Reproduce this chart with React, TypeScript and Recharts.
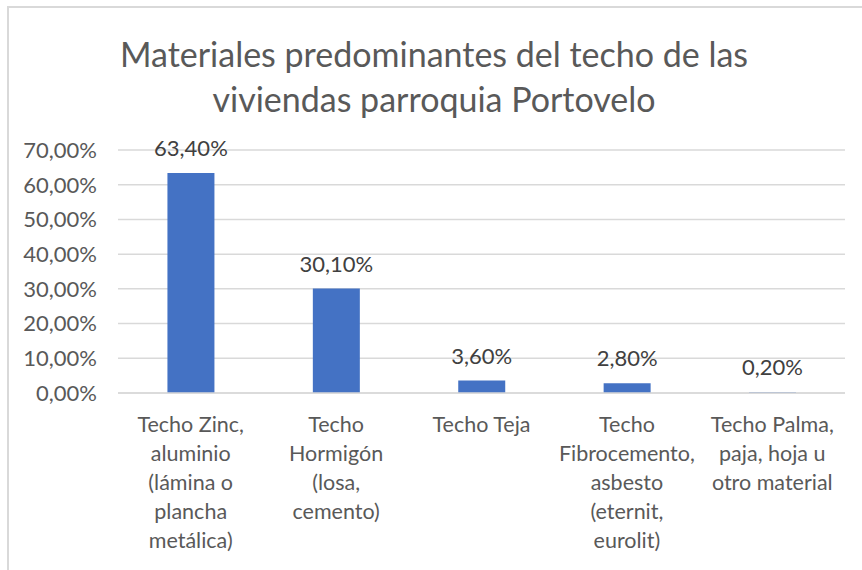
import { BarChart, Bar, XAxis, YAxis, CartesianGrid, LabelList } from 'recharts'

const categories = [
  'Techo Zinc, aluminio (lámina o plancha metálica)',
  'Techo Hormigón (losa, cemento)',
  'Techo Teja',
  'Techo Fibrocemento, asbesto (eternit, eurolit)',
  'Techo Palma, paja, hoja u otro material',
]
const categoryLines = [
  ['Techo Zinc,', 'aluminio', '(lámina o', 'plancha', 'metálica)'],
  ['Techo', 'Hormigón', '(losa,', 'cemento)'],
  ['Techo Teja'],
  ['Techo', 'Fibrocemento,', 'asbesto', '(eternit,', 'eurolit)'],
  ['Techo Palma,', 'paja, hoja u', 'otro material'],
]
const values = [63.4, 30.1, 3.6, 2.8, 0.2]
const yTicks = [0, 10, 20, 30, 40, 50, 60, 70]

const FONT = 'Lato, "Open Sans", sans-serif'
const pct = (v: number) => `${v.toFixed(2).replace('.', ',')}%`

const data = categories.map((name, i) => ({ name, value: values[i], idx: i }))

function CategoryTick(props: any) {
  const { x, y, index } = props
  const lines = categoryLines[index] || []
  return (
    <g>
      {lines.map((l, i) => (
        <text
          key={i}
          x={x}
          y={y + 31 + i * 29}
          textAnchor="middle"
          fill="#595959"
          fontSize={21.5}
          fontFamily={FONT}
        >
          {l}
        </text>
      ))}
    </g>
  )
}

export default function App() {
  return (
    <div style={{ position: 'absolute', left: 0, top: 0, width: 862, height: 570, background: '#fff' }}>
      <div
        style={{
          position: 'absolute', left: 7, top: 6, right: 0, bottom: 0,
          borderTop: '2px solid #d9d9d9', borderLeft: '2px solid #d9d9d9',
        }}
      />
      <div
        style={{
          position: 'absolute', left: 0, top: 31, width: 868, textAlign: 'center',
          fontFamily: FONT, fontSize: 34, color: '#595959', lineHeight: '45px',
        }}
      >
        Materiales predominantes del techo de las<br />viviendas parroquia Portovelo
      </div>
      <BarChart
        width={862}
        height={570}
        data={data}
        margin={{ top: 150, right: 17, bottom: 0, left: 6 }}
        barCategoryGap="34%"
        style={{ position: 'absolute', left: 0, top: 0 }}
      >
        <CartesianGrid vertical={false} stroke="#d9d9d9" strokeWidth={1.5} />
        <XAxis
          dataKey="name"
          axisLine={{ stroke: '#d9d9d9', strokeWidth: 1.5 }}
          tickLine={false}
          interval={0}
          height={177}
          tick={<CategoryTick />}
        />
        <YAxis
          width={112}
          domain={[0, 70]}
          ticks={yTicks}
          interval={0}
          axisLine={false}
          tickLine={false}
          tickMargin={15}
          tickFormatter={pct}
          tick={{ fill: '#595959', fontSize: 22, fontFamily: FONT }}
        />
        <Bar dataKey="value" fill="#4472c4" isAnimationActive={false}>
          <LabelList
            dataKey="value"
            position="top"
            offset={17}
            formatter={(v: any) => pct(Number(v))}
            fill="#404040"
            fontSize={22}
            fontFamily={FONT}
          />
        </Bar>
      </BarChart>
    </div>
  )
}
